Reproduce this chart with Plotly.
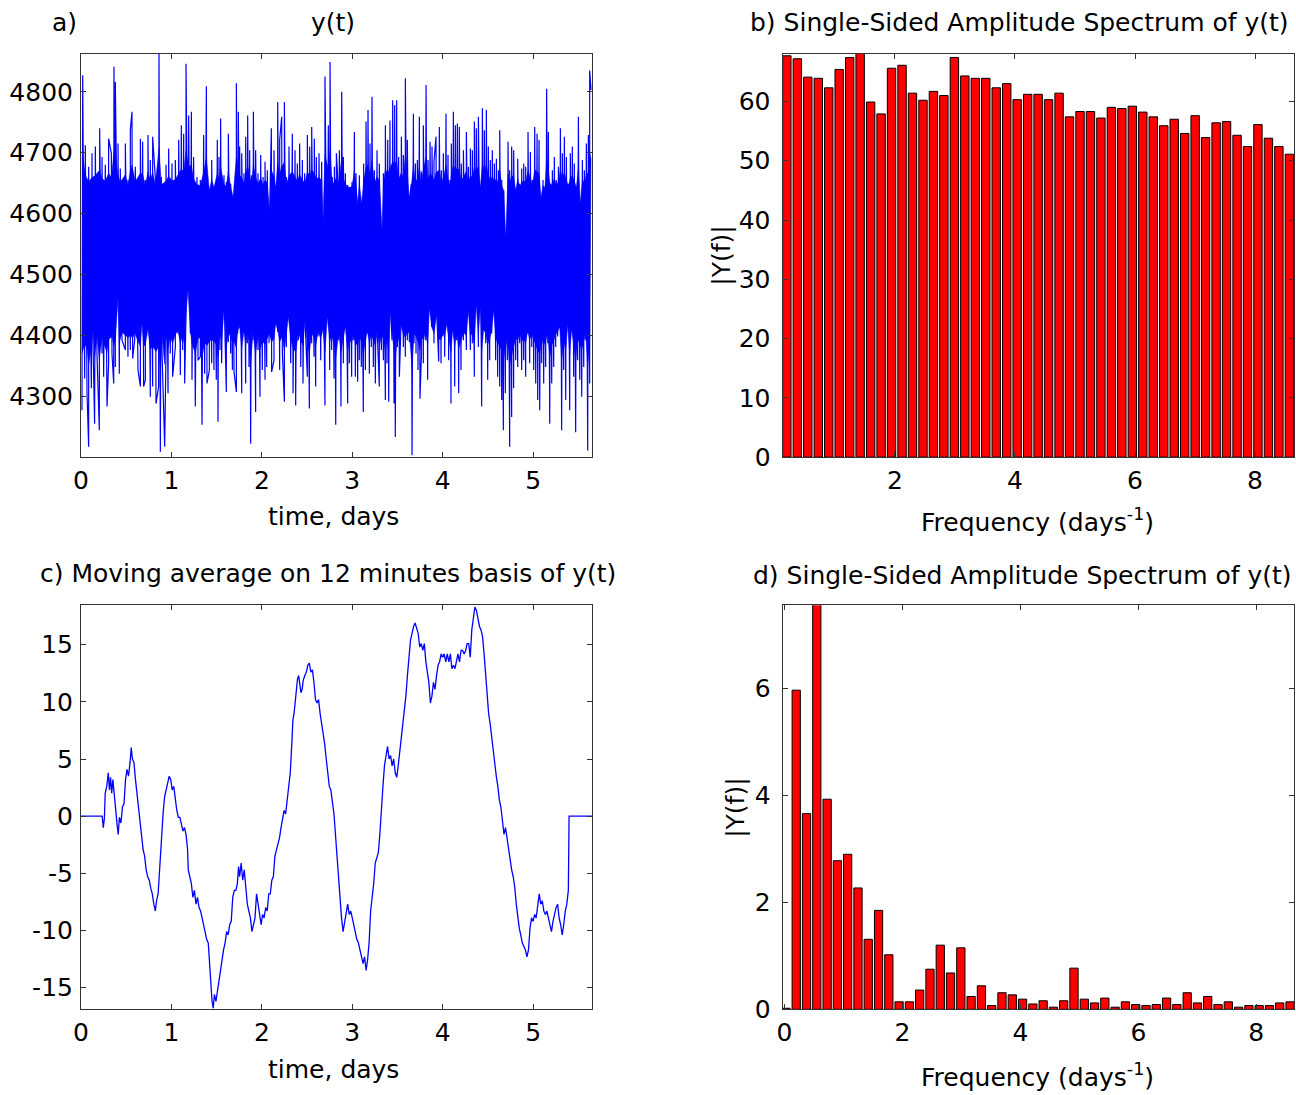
import plotly.graph_objects as go

W, H = 1296, 1095
FONT = "DejaVu Sans"

# ---------------- panel a: y(t) raw signal (upper / lower spike tips) -------------
a_hi_t = [0.018, 0.047, 0.084, 0.121, 0.158, 0.206, 0.232, 0.268, 0.305, 0.335,
          0.364, 0.379, 0.409, 0.434, 0.490, 0.519, 0.545, 0.563, 0.600, 0.656,
          0.681, 0.711, 0.740, 0.766, 0.792, 0.821, 0.862, 0.888, 0.940, 0.969,
          1.006, 1.043, 1.080, 1.109, 1.135, 1.161, 1.190, 1.220, 1.245, 1.282,
          1.319, 1.356, 1.386, 1.419,
          1.445, 1.470, 1.507, 1.526, 1.544, 1.581, 1.607, 1.629,
          1.655, 1.681, 1.718, 1.740, 1.754, 1.777, 1.802, 1.821, 1.843, 1.865,
          1.887, 1.906, 1.931, 1.957, 1.987, 2.013, 2.035, 2.060, 2.086, 2.105,
          2.134, 2.153, 2.175, 2.197, 2.219, 2.249, 2.271, 2.300, 2.337, 2.367,
          2.392, 2.418, 2.448, 2.473, 2.503, 2.529, 2.551, 2.580, 2.602, 2.632,
          2.661, 2.676, 2.698, 2.735, 2.754, 2.779, 2.802, 2.824,
          2.838, 2.857, 2.883, 2.901, 2.923, 2.949, 2.975, 2.997,
          3.023, 3.041, 3.060, 3.078, 3.104, 3.126, 3.152, 3.174, 3.196, 3.218,
          3.244, 3.274, 3.299, 3.329, 3.344, 3.366, 3.392, 3.417, 3.447, 3.469,
          3.491, 3.513, 3.543, 3.565, 3.587, 3.609, 3.631, 3.653, 3.676, 3.698,
          3.720, 3.742, 3.764, 3.786, 3.816, 3.838, 3.860, 3.882, 3.904, 3.926,
          3.963, 3.985, 4.007, 4.037, 4.059, 4.081, 4.096, 4.118, 4.140, 4.162,
          4.184, 4.206, 4.229,
          4.262, 4.284, 4.306, 4.328, 4.350, 4.372, 4.395,
          4.417, 4.439, 4.461, 4.483, 4.505, 4.527, 4.549, 4.572, 4.594, 4.616,
          4.631, 4.653, 4.675, 4.697, 4.723, 4.741, 4.763, 4.785, 4.808, 4.830,
          4.852, 4.874, 4.896, 4.918, 4.944, 4.970, 4.992, 5.018, 5.044, 5.066,
          5.088, 5.110, 5.132, 5.150, 5.169, 5.191, 5.213, 5.235, 5.257, 5.280,
          5.302, 5.324, 5.346, 5.368, 5.390, 5.412, 5.434, 5.456, 5.479, 5.501,
          5.523, 5.545, 5.567, 5.589, 5.611, 5.626, 5.641]
a_hi_y = [4827, 4712, 4677, 4699, 4710, 4740, 4693, 4680, 4723, 4699,
          4841, 4816, 4715, 4674, 4715, 4655, 4737, 4767, 4677, 4723,
          4718, 4655, 4729, 4688, 4726, 4660, 4862, 4660, 4680, 4707,
          4682, 4688, 4721, 4745, 4731, 4846, 4761, 4767, 4693, 4660,
          4655, 4729, 4809, 4638,
          4688, 4644, 4721, 4693, 4756, 4663, 4652, 4731,
          4649, 4627, 4814, 4767, 4710, 4699, 4666, 4726, 4761, 4704,
          4663, 4767, 4704, 4666, 4696, 4660, 4685, 4671, 4600, 4740,
          4704, 4644, 4783, 4721, 4759, 4783, 4660, 4710, 4731, 4704,
          4682, 4715, 4688, 4666, 4729, 4710, 4742, 4723, 4693, 4699,
          4685, 4589, 4825, 4745, 4849, 4660, 4677, 4699,
          4663, 4704, 4800, 4693, 4666, 4647, 4644, 4652,
          4734, 4666, 4617, 4663, 4617, 4682, 4751, 4770, 4715, 4792,
          4671, 4704, 4682, 4575, 4666, 4745, 4721, 4753, 4786, 4778,
          4786, 4693, 4726, 4696, 4822, 4721, 4622, 4649, 4764, 4682,
          4688, 4759, 4669, 4745, 4811, 4688, 4718, 4710, 4685, 4726,
          4742, 4671, 4699, 4764, 4696, 4655, 4715, 4767, 4745, 4748,
          4742, 4682, 4704,
          4734, 4677, 4707, 4704, 4751, 4740, 4759,
          4644, 4773, 4737, 4770, 4710, 4688, 4704, 4682, 4690, 4671,
          4737, 4655, 4638, 4562, 4718, 4671, 4710, 4704, 4638, 4690,
          4649, 4674, 4682, 4677, 4734, 4701, 4655, 4742, 4731, 4721,
          4627, 4655, 4644, 4805, 4734, 4649, 4671, 4693, 4655, 4677,
          4740, 4699, 4726, 4693, 4649, 4699, 4710, 4682, 4644, 4759,
          4617, 4688, 4671, 4715, 4729, 4835, 4803]
a_lo_t = [0.010, 0.040, 0.066, 0.084, 0.114, 0.128, 0.150, 0.176, 0.202, 0.232,
          0.250, 0.287, 0.305, 0.342, 0.361, 0.379, 0.409, 0.423, 0.453, 0.490,
          0.519, 0.545, 0.571, 0.593, 0.630, 0.656, 0.674, 0.692, 0.711, 0.740,
          0.766, 0.792, 0.829, 0.858, 0.877, 0.895, 0.925, 0.940, 0.962, 0.987,
          1.013, 1.043, 1.072, 1.098, 1.124, 1.146, 1.161, 1.183, 1.209, 1.227,
          1.264, 1.294, 1.319, 1.338, 1.367, 1.393, 1.419,
          1.445, 1.470, 1.496, 1.515, 1.537, 1.555, 1.585, 1.607,
          1.629, 1.655, 1.674, 1.692, 1.718, 1.732, 1.754, 1.777, 1.802, 1.821,
          1.839, 1.858, 1.876, 1.902, 1.931, 1.957, 1.979, 2.005, 2.035, 2.053,
          2.079, 2.108, 2.134, 2.153, 2.175, 2.197, 2.227, 2.249, 2.271, 2.293,
          2.319, 2.345, 2.374, 2.404, 2.430, 2.455, 2.477, 2.503, 2.525, 2.551,
          2.577, 2.595, 2.621, 2.651, 2.676, 2.698, 2.724, 2.750, 2.772, 2.798,
          2.817,
          2.850, 2.875, 2.901, 2.923, 2.949, 2.968, 2.993,
          3.012, 3.034, 3.060, 3.078, 3.100, 3.122, 3.145, 3.167, 3.189, 3.211,
          3.233, 3.255, 3.277, 3.299, 3.322, 3.344, 3.366, 3.384, 3.403, 3.421,
          3.440, 3.462, 3.476, 3.499, 3.521, 3.539, 3.565, 3.587, 3.609, 3.631,
          3.661, 3.683, 3.705, 3.727, 3.749, 3.764, 3.786, 3.808, 3.834, 3.853,
          3.878, 3.904, 3.934, 3.956, 3.982, 4.000, 4.022, 4.044, 4.066, 4.092,
          4.111, 4.133, 4.155, 4.177, 4.203, 4.229,
          4.262, 4.284, 4.306, 4.328, 4.350, 4.372, 4.395,
          4.417, 4.431, 4.453, 4.476, 4.498, 4.520, 4.542, 4.564, 4.586, 4.608,
          4.631, 4.653, 4.671, 4.693, 4.715, 4.741, 4.763, 4.785, 4.808, 4.830,
          4.852, 4.874, 4.896, 4.918, 4.940, 4.962, 4.985, 5.007, 5.029, 5.051,
          5.073, 5.095, 5.117, 5.139, 5.162, 5.184, 5.206, 5.228, 5.250, 5.272,
          5.294, 5.316, 5.338, 5.361, 5.383, 5.405, 5.427, 5.449, 5.471, 5.493,
          5.516, 5.538, 5.560, 5.582, 5.604, 5.626]
a_lo_y = [4277, 4329, 4305, 4217, 4313, 4414, 4255, 4370, 4244, 4370,
          4332, 4283, 4354, 4370, 4321, 4348, 4461, 4337, 4392, 4376,
          4365, 4376, 4362, 4392, 4343, 4316, 4419, 4316, 4327, 4409,
          4299, 4316, 4288, 4316, 4209, 4376, 4217, 4376, 4305, 4370,
          4332, 4381, 4403, 4335, 4376, 4321, 4436, 4474, 4403, 4327,
          4283, 4359, 4365, 4253, 4337, 4321, 4343,
          4354, 4343, 4327, 4258, 4376, 4354, 4447, 4307,
          4389, 4370, 4343, 4340, 4307, 4403, 4414, 4305, 4403, 4321,
          4387, 4348, 4222, 4392, 4274, 4376, 4299, 4343, 4327, 4348,
          4387, 4340, 4359, 4419, 4406, 4343, 4370, 4291, 4381, 4430,
          4354, 4305, 4285, 4392, 4348, 4321, 4425, 4332, 4280, 4387,
          4365, 4316, 4398, 4359, 4409, 4285, 4430, 4343, 4376, 4329,
          4253,
          4392, 4283, 4354, 4414, 4288, 4354, 4332,
          4392, 4332, 4324, 4359, 4348, 4274, 4343, 4403, 4337, 4381,
          4348, 4321, 4403, 4316, 4376, 4359, 4294, 4354, 4291, 4447,
          4392, 4288, 4233, 4381, 4332, 4417, 4381, 4365, 4392, 4389,
          4203, 4387, 4370, 4343, 4296, 4365, 4354, 4392, 4327, 4444,
          4414, 4387, 4436, 4357, 4354, 4398, 4365, 4419, 4359, 4288,
          4409, 4316, 4392, 4305, 4343, 4392,
          4376, 4439, 4376, 4387, 4332, 4450, 4381,
          4447, 4283, 4409, 4387, 4327, 4359, 4403, 4441, 4359, 4332,
          4316, 4294, 4244, 4305, 4359, 4217, 4266, 4313, 4359, 4348,
          4387, 4343, 4359, 4332, 4403, 4354, 4381, 4343, 4321, 4294,
          4277, 4354, 4321, 4348, 4387, 4255, 4321, 4348, 4381, 4398,
          4414, 4244, 4343, 4294, 4417, 4277, 4409, 4332, 4241, 4359,
          4327, 4299, 4348, 4392, 4211, 4321]
# edges of the densely filled part of the band (levels)
A_DENSE_TOP = 4642
A_DENSE_BOTTOM = 4410
A_FRINGE = 0.3   # share of each spike that lies inside the dense fringe

# ---------------- panel c: moving average ----------------
c_t = [0.000, 0.233, 0.246, 0.258, 0.267, 0.284, 0.301, 0.314, 0.326, 0.339, 0.352, 0.364, 0.381, 0.398, 0.411,
       0.424, 0.441, 0.458, 0.475, 0.492, 0.508, 0.525, 0.542, 0.555, 0.568, 0.585, 0.602, 0.619, 0.636, 0.653,
       0.669, 0.686, 0.703, 0.720, 0.737, 0.754, 0.771, 0.788, 0.805, 0.822, 0.835, 0.852, 0.864, 0.877, 0.890,
       0.907, 0.924, 0.941, 0.958, 0.975, 0.992, 1.008, 1.025, 1.042, 1.059, 1.076, 1.093, 1.110, 1.127, 1.144,
       1.161, 1.178, 1.186, 1.203, 1.220, 1.237, 1.254, 1.271, 1.288, 1.305, 1.322, 1.339, 1.356, 1.373, 1.390,
       1.407, 1.424, 1.436, 1.449, 1.462, 1.475, 1.492, 1.508, 1.525, 1.542, 1.559, 1.576, 1.593, 1.610, 1.627,
       1.644, 1.661, 1.678, 1.695, 1.712, 1.729, 1.742, 1.754, 1.771, 1.788, 1.805, 1.822, 1.839, 1.856, 1.873,
       1.890, 1.907, 1.924, 1.941, 1.958, 1.975, 1.992, 2.008, 2.025, 2.042, 2.059, 2.076, 2.093, 2.110, 2.127,
       2.144, 2.161, 2.178, 2.195, 2.212, 2.229, 2.246, 2.263, 2.280, 2.297, 2.314, 2.331, 2.343, 2.356, 2.369,
       2.381, 2.394, 2.407, 2.419, 2.432, 2.445, 2.458, 2.475, 2.492, 2.508, 2.525, 2.542, 2.559, 2.576, 2.593,
       2.610, 2.627, 2.644, 2.661, 2.678, 2.695, 2.712, 2.729, 2.746, 2.763, 2.780, 2.797, 2.814, 2.831, 2.847,
       2.864, 2.881, 2.898, 2.915, 2.932, 2.949, 2.966, 2.983, 3.000, 3.017, 3.034, 3.051, 3.068, 3.085, 3.102,
       3.119, 3.136, 3.153, 3.169, 3.186, 3.203, 3.220, 3.237, 3.254, 3.271, 3.288, 3.305, 3.322, 3.339, 3.356,
       3.373, 3.390, 3.407, 3.424, 3.441, 3.458, 3.475, 3.492, 3.508, 3.525, 3.542, 3.559, 3.576, 3.593, 3.610,
       3.627, 3.644, 3.661, 3.678, 3.695, 3.712, 3.729, 3.746, 3.763, 3.780, 3.797, 3.814, 3.831, 3.847, 3.864,
       3.881, 3.898, 3.915, 3.932, 3.949, 3.966, 3.983, 4.000, 4.017, 4.034, 4.051, 4.068, 4.085, 4.102, 4.119,
       4.136, 4.153, 4.169, 4.186, 4.203, 4.220, 4.237, 4.254, 4.271, 4.288, 4.305, 4.322, 4.339, 4.356, 4.373,
       4.390, 4.407, 4.424, 4.441, 4.458, 4.475, 4.492, 4.508, 4.525, 4.542, 4.559, 4.576, 4.593, 4.610, 4.627,
       4.644, 4.661, 4.678, 4.695, 4.712, 4.729, 4.746, 4.763, 4.780, 4.797, 4.814, 4.831, 4.847, 4.864, 4.881,
       4.898, 4.915, 4.932, 4.949, 4.966, 4.983, 5.000, 5.017, 5.034, 5.051, 5.068, 5.085, 5.102, 5.119, 5.136,
       5.153, 5.169, 5.186, 5.203, 5.220, 5.237, 5.254, 5.271, 5.288, 5.305, 5.322, 5.339, 5.356, 5.373, 5.390,
       5.398, 5.657]
c_y = [0.0, 0.0, -1.0, -0.2, 2.0, 2.6, 3.8, 2.3, 3.4, 2.0, 3.2, 2.0, 0.2, -0.7, -1.6,
       -0.1, -0.6, 0.8, 1.1, 3.2, 4.1, 3.5, 4.7, 6.0, 5.0, 4.7, 3.2, 2.0, 0.8, -0.4,
       -1.9, -2.9, -3.5, -4.7, -5.3, -5.6, -6.3, -6.8, -7.7, -8.3, -7.4, -6.8, -5.3, -3.5, -1.6,
       0.2, 1.7, 2.3, 3.1, 3.5, 3.2, 2.3, 2.6, 1.4, 0.5, -0.1, -0.1, -0.7, -1.3, -1.0,
       -1.6, -2.9, -4.7, -5.3, -5.9, -7.1, -6.5, -7.7, -7.1, -8.0, -8.3, -8.9, -9.5, -10.1, -10.8,
       -11.1, -13.2, -15.0, -16.2, -16.8, -15.6, -16.2, -15.3, -14.7, -13.8, -12.6, -11.7, -11.1, -10.1, -10.4,
       -9.5, -9.2, -7.1, -6.5, -6.5, -5.9, -4.4, -5.3, -4.1, -5.6, -4.7, -6.2, -7.7, -8.3, -8.9,
       -10.1, -9.5, -8.9, -6.8, -7.7, -8.6, -9.5, -8.6, -8.9, -8.0, -8.3, -6.8, -6.8, -5.6, -5.3,
       -3.5, -2.9, -2.6, -1.9, -1.0, -0.1, 0.5, 0.2, 1.4, 2.3, 3.8, 6.3, 8.4, 9.0, 9.9,
       11.1, 12.0, 12.3, 11.7, 10.8, 11.1, 11.9, 12.3, 12.6, 13.2, 13.4, 12.6, 12.8, 11.7, 10.2,
       9.9, 10.2, 9.0, 8.1, 7.5, 6.3, 5.0, 3.5, 2.6, 2.3, 1.1, 0.2, -1.6, -3.5, -5.9,
       -7.1, -8.9, -10.1, -9.2, -8.3, -7.7, -8.6, -8.3, -8.9, -9.5, -10.4, -10.8, -11.1, -11.7, -12.3,
       -12.9, -12.3, -13.5, -12.6, -11.1, -8.3, -7.1, -5.9, -4.1, -3.5, -3.2, -1.6, 1.1, 2.6, 4.4,
       5.3, 6.1, 5.0, 5.3, 4.4, 5.0, 3.8, 3.4, 4.4, 5.6, 6.9, 8.4, 9.3, 10.5, 12.3,
       14.2, 15.4, 16.0, 16.6, 16.9, 16.3, 16.0, 14.8, 15.1, 14.5, 15.1, 13.5, 12.6, 11.7, 9.9,
       10.5, 11.7, 11.1, 12.3, 13.2, 13.5, 14.2, 13.9, 14.2, 13.5, 14.2, 13.5, 14.2, 12.9, 13.2,
       12.9, 13.5, 14.2, 13.5, 14.5, 14.5, 14.2, 14.5, 15.1, 15.1, 13.9, 16.3, 17.2, 18.3, 18.0,
       17.2, 16.6, 16.3, 15.7, 14.2, 12.3, 10.5, 9.0, 8.1, 6.9, 5.6, 4.4, 3.5, 2.6, 1.4,
       0.8, -0.7, -1.6, -1.0, -1.9, -2.9, -4.1, -4.7, -5.3, -6.2, -7.7, -8.9, -9.8, -10.4, -11.1,
       -11.4, -11.7, -12.3, -11.7, -9.8, -8.9, -9.2, -8.6, -8.9, -8.0, -6.8, -7.7, -7.4, -8.3, -8.6,
       -8.3, -8.9, -9.5, -10.1, -9.2, -8.6, -8.0, -7.7, -8.9, -9.5, -10.4, -9.5, -8.3, -7.7, -6.5,
       0.0, 0.0]

# ---------------- spectra ----------------
freq = [0.026, 0.200, 0.375, 0.549, 0.724, 0.898, 1.072, 1.247, 1.421, 1.596,
        1.770, 1.944, 2.119, 2.293, 2.468, 2.642, 2.816, 2.991, 3.165, 3.340,
        3.514, 3.688, 3.863, 4.037, 4.212, 4.386, 4.560, 4.735, 4.909, 5.084,
        5.258, 5.432, 5.607, 5.781, 5.956, 6.130, 6.304, 6.479, 6.653, 6.828,
        7.002, 7.176, 7.351, 7.525, 7.700, 7.874, 8.048, 8.223, 8.397, 8.572]
# b) raw-signal spectrum, bins 1..49
b_amp = [67.7, 67.2, 64.1, 63.9, 62.3, 65.4, 67.4, 68.3, 59.9, 57.9,
         65.6, 66.1, 61.4, 60.2, 61.7, 61.0, 67.4, 64.3, 63.9, 63.9,
         62.3, 63.0, 60.3, 61.2, 61.2, 60.3, 61.4, 57.4, 58.3, 58.3,
         57.2, 59.0, 58.8, 59.2, 58.2, 57.4, 55.9, 57.0, 54.6, 57.6,
         53.9, 56.4, 56.6, 54.3, 52.4, 56.1, 53.8, 52.4, 51.1]
# d) moving-average spectrum, bins 0..49
d_amp = [0.02, 5.97, 3.66, 7.90, 3.93, 2.78, 2.90, 2.27, 1.31, 1.85,
         1.02, 0.14, 0.14, 0.36, 0.75, 1.20, 0.68, 1.15, 0.24, 0.44,
         0.07, 0.31, 0.27, 0.19, 0.10, 0.16, 0.04, 0.16, 0.77, 0.19,
         0.12, 0.21, 0.04, 0.14, 0.09, 0.07, 0.09, 0.21, 0.09, 0.31,
         0.12, 0.24, 0.09, 0.14, 0.04, 0.07, 0.07, 0.07, 0.12, 0.14]

assert len(a_hi_t) == len(a_hi_y), (len(a_hi_t), len(a_hi_y))
assert len(a_lo_t) == len(a_lo_y), (len(a_lo_t), len(a_lo_y))
assert len(c_t) == len(c_y), (len(c_t), len(c_y))
assert len(b_amp) == 49 and len(d_amp) == 50

# ---------------- figure ----------------
BLUE = "#0000FF"
RED = "#FF0000"

pts = sorted(zip(a_hi_t + a_lo_t, a_hi_y + a_lo_y))
a_t = [p[0] for p in pts]
a_y = [p[1] for p in pts]


def fringe_hi(v):
    return v if v <= A_DENSE_TOP else A_DENSE_TOP + A_FRINGE * (v - A_DENSE_TOP)


def fringe_lo(v):
    return v if v >= A_DENSE_BOTTOM else A_DENSE_BOTTOM - A_FRINGE * (A_DENSE_BOTTOM - v)


# dense band: polygon through the spike tips, pulled in to the edge of the dense fringe
band_x = a_hi_t + a_lo_t[::-1]
band_y = [fringe_hi(v) for v in a_hi_y] + [fringe_lo(v) for v in a_lo_y][::-1]

fig = go.Figure()
fig.add_trace(go.Scatter(x=band_x, y=band_y, fill="toself", fillcolor=BLUE, mode="lines",
                         line=dict(width=0.5, color=BLUE), xaxis="x", yaxis="y", hoverinfo="skip"))
fig.add_trace(go.Scatter(x=a_t, y=a_y, mode="lines", line=dict(color=BLUE, width=1.2),
                         xaxis="x", yaxis="y"))
fig.add_trace(go.Bar(x=freq[1:], y=b_amp, width=0.14,
                     marker=dict(color=RED, line=dict(color="black", width=1)),
                     xaxis="x2", yaxis="y2"))
fig.add_trace(go.Scatter(x=c_t, y=c_y, mode="lines", line=dict(color=BLUE, width=1.3),
                         xaxis="x3", yaxis="y3"))
fig.add_trace(go.Bar(x=freq, y=d_amp, width=0.14,
                     marker=dict(color=RED, line=dict(color="black", width=1)),
                     xaxis="x4", yaxis="y4"))

# placement in picture pixels, corrected for the small scale/offset seen in the capture
SX, OX = 0.993, 7.0
SY, OY = 0.986, 0.0


def px_x(v):
    return ((v - OX) / SX) / W


def px_y(v):
    return 1 - ((v - OY) / SY) / H


def axis(**kw):
    d = dict(showline=True, linecolor="#333333", linewidth=1.2, mirror="ticks",
             ticks="inside", ticklen=5, tickwidth=1, tickcolor="#333333",
             showgrid=False, zeroline=False,
             tickfont=dict(family=FONT, size=25, color="black"))
    d.update(kw)
    return d


XA = [px_x(80), px_x(591)]
XB = [px_x(781), px_x(1292)]
YT = [px_y(457), px_y(54)]
YB = [px_y(1009), px_y(605)]

fig.update_layout(
    width=W, height=H, margin=dict(l=0, r=0, t=0, b=0), autosize=False,
    paper_bgcolor="white", plot_bgcolor="white", showlegend=False,
    font=dict(family=FONT, size=25, color="black"),
    xaxis=axis(domain=XA, anchor="y", range=[0, 5.657], tickvals=[0, 1, 2, 3, 4, 5], ticklabelstandoff=1),
    yaxis=axis(domain=YT, anchor="x", range=[4200, 4862], tickvals=[4300, 4400, 4500, 4600, 4700, 4800],
               ticklabelstandoff=2),
    xaxis2=axis(domain=XB, anchor="y2", range=[0.13, 8.65], tickvals=[2, 4, 6, 8], ticklabelstandoff=1),
    yaxis2=axis(domain=YT, anchor="x2", range=[0, 68.0], tickvals=[0, 10, 20, 30, 40, 50, 60],
                ticklabelstandoff=6),
    xaxis3=axis(domain=XA, anchor="y3", range=[0, 5.657], tickvals=[0, 1, 2, 3, 4, 5], ticklabelstandoff=1),
    yaxis3=axis(domain=YB, anchor="x3", range=[-16.9, 18.46], tickvals=[-15, -10, -5, 0, 5, 10, 15],
                ticktext=["-15", "-10", "-5", "0", "5", "10", "15"], ticklabelstandoff=2),
    xaxis4=axis(domain=XB, anchor="y4", range=[-0.03, 8.64], tickvals=[0, 2, 4, 6, 8], ticklabelstandoff=1),
    yaxis4=axis(domain=YB, anchor="x4", range=[0, 7.56], tickvals=[0, 2, 4, 6], ticklabelstandoff=6),
)


def ann(text, x, y, xanchor="center", angle=0):
    fig.add_annotation(text=text, x=px_x(x), y=px_y(y), xref="paper", yref="paper",
                       xanchor=xanchor, yanchor="middle", showarrow=False, textangle=angle,
                       font=dict(family=FONT, size=25, color="black"))


ann("a)", 63, 22)
ann("y(t)", 332, 22)
ann("b) Single-Sided Amplitude Spectrum of y(t)", 1018, 22)
ann("c) Moving average on 12 minutes basis of y(t)", 327, 573)
ann("d) Single-Sided Amplitude Spectrum of y(t)", 1021, 575)
ann("time, days", 332, 516)
ann("time, days", 332, 1069)
ann("Frequency (days<sup>-1</sup>)", 1036, 520)
ann("Frequency (days<sup>-1</sup>)", 1036, 1075)
ann("|Y(f)|", 719, 256, angle=-90)
ann("|Y(f)|", 734, 808, angle=-90)

fig.write_html(
    "out.html",
    config={"displayModeBar": False},
    post_script="document.body.style.margin='0px';document.body.style.padding='0px';"
                "document.documentElement.style.overflow='hidden';",
)
